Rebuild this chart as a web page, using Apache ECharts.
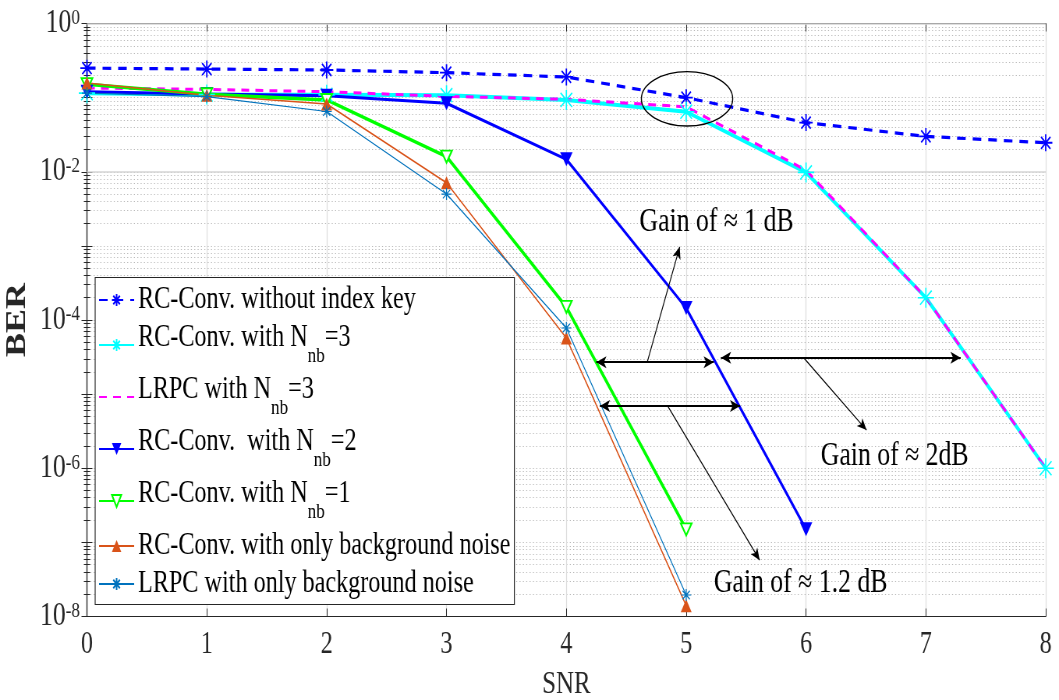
<!DOCTYPE html>
<html>
<head>
<meta charset="utf-8">
<script src="https://cdn.jsdelivr.net/npm/echarts@6/dist/echarts.min.js"></script>
<style>
  html, body { margin: 0; padding: 0; background: #fff; overflow: hidden; width: 1059px; height: 700px; }
  /* the figure is laid out wide and squeezed horizontally, giving the tall condensed lettering */
  #chart { width: 1358px; height: 700px; transform: scaleX(0.7798); transform-origin: 0 0; }
</style>
</head>
<body>
<div id="chart"></div>
<script>
// ---- data -------------------------------------------------------------
const snr = [0, 1, 2, 3, 4, 5, 6, 7, 8];

const berConvNoKey   = [0.25, 0.243, 0.236, 0.217, 0.19, 0.1, 0.046, 0.030, 0.0246];
const berConvNb3     = [0.115, 0.11, 0.109, 0.108, 0.093, 0.0645, 0.0098, 2.0e-4, 1.0e-6];
const berLrpcNb3     = [0.135, 0.129, 0.12, 0.104, 0.095, 0.075, 0.0105, 2.0e-4, 1.0e-6];
const berConvNb2     = [0.12, 0.112, 0.106, 0.084, 0.0147, 1.45e-4, 1.5e-7];
const berConvNb1     = [0.152, 0.111, 0.093, 0.016, 1.5e-4, 1.5e-7];
const berConvBgNoise = [0.157, 0.108, 0.082, 0.0071, 5.7e-5, 1.4e-8];
const berLrpcBgNoise = [0.115, 0.103, 0.065, 0.005, 7.8e-5, 1.95e-8];

const seriesNames = [
  'RC-Conv. without index key',
  'RC-Conv. with Nnb=3',
  'LRPC with Nnb=3',
  'RC-Conv.  with Nnb=2',
  'RC-Conv. with Nnb=1',
  'RC-Conv. with only background noise',
  'LRPC with only background noise'
];
const legendLabels = [
  '{m|RC-Conv. without index key}',
  '{ms|RC-Conv. with N}{sub|nb}{ms|=3}',
  '{ms|LRPC with N}{sub|nb}{ms|=3}',
  '{ms|RC-Conv.  with N}{sub|nb}{ms|=2}',
  '{ms|RC-Conv. with N}{sub|nb}{ms|=1}',
  '{m|RC-Conv. with only background noise}',
  '{m|LRPC with only background noise}'
];

// decades carrying labels and the solid major grid
const majorDecades = [1, 1e-2, 1e-4, 1e-6, 1e-8];

// annotation anchors, in (SNR, BER) units
const gainArrows = [
  [[4.25, 2.7e-5], [5.23, 2.7e-5]],
  [[5.29, 3.1e-5], [7.29, 3.1e-5]],
  [[4.28, 6.9e-6], [5.45, 6.9e-6]]
];
const gainPointers = [
  [[4.675, 2.7e-5], [4.946, 9.7e-4]],
  [[5.98, 3.1e-5], [6.505, 3.27e-6]],
  [[4.846, 6.9e-6], [5.613, 5.75e-8]]
];
const gainLabels = ['Gain of \u2248 1 dB', 'Gain of \u2248 2dB', 'Gain of \u2248 1.2 dB'];
const gainLabelAnchors = [[5.254, 2.09e-3], [6.74, 1.46e-6], [5.955, 2.8e-8]];
const ellipseCorners = [[4.626, 0.224], [5.388, 0.0414]];

// ---- styling ----------------------------------------------------------
const FONT = '"Liberation Serif", "Times New Roman", serif';
const AXIS_COLOR = '#262626';
const DOTTED = { color: '#b8b8b8', width: 1, type: [1.3, 3] };
const ASTERISK = 'path://M0,-10L0,10M-10,0L10,0M-7.07,-7.07L7.07,7.07M-7.07,7.07L7.07,-7.07';

const pairs = ys => ys.map((v, i) => [snr[i], v]);

function lineSeries(idx, values, style) {
  return Object.assign({
    name: seriesNames[idx],
    type: 'line',
    data: pairs(values),
    showSymbol: true,
    silent: true,
    emphasis: { disabled: true },
    animation: false
  }, style);
}

const series = [
  lineSeries(0, berConvNoKey, {
    lineStyle: { color: '#0000ff', width: 3.2, type: [11, 9] },
    symbol: ASTERISK, symbolSize: [17, 17],
    itemStyle: { color: '#0000ff', borderColor: '#0000ff', borderWidth: 1.8 }
  }),
  lineSeries(1, berConvNb3, {
    lineStyle: { color: '#00ffff', width: 4 },
    symbol: ASTERISK, symbolSize: [21, 20],
    itemStyle: { color: '#00ffff', borderColor: '#00ffff', borderWidth: 1.6 }
  }),
  lineSeries(2, berLrpcNb3, {
    lineStyle: { color: '#ff00ff', width: 3, type: [10, 8] },
    symbol: 'none',
    itemStyle: { color: 'rgba(0,0,0,0)', borderWidth: 0 }
  }),
  lineSeries(3, berConvNb2, {
    lineStyle: { color: '#0000ff', width: 3 },
    symbol: 'triangle', symbolRotate: 180, symbolSize: [16, 14],
    itemStyle: { color: '#0000ff' }
  }),
  lineSeries(4, berConvNb1, {
    lineStyle: { color: '#00ff00', width: 3.5 },
    symbol: 'emptyTriangle', symbolRotate: 180, symbolSize: [14, 12],
    itemStyle: { color: '#00ff00', borderColor: '#00ff00', borderWidth: 1.6 }
  }),
  lineSeries(5, berConvBgNoise, {
    lineStyle: { color: '#d95319', width: 1.5 },
    symbol: 'triangle', symbolSize: [14, 13],
    itemStyle: { color: '#d95319' }
  }),
  lineSeries(6, berLrpcBgNoise, {
    lineStyle: { color: '#0072bd', width: 1.2 },
    symbol: ASTERISK, symbolSize: [13, 12],
    itemStyle: { color: '#0072bd', borderColor: '#0072bd', borderWidth: 1.2 }
  }),
  // solid major grid at the labelled decades
  {
    name: 'major grid', type: 'line', data: [], silent: true, animation: false,
    markLine: {
      silent: true, z: 1, symbol: 'none', animation: false,
      label: { show: false },
      lineStyle: { color: '#d4d4d4', width: 1.5, type: 'solid' },
      data: majorDecades.map(v => ({ yAxis: v }))
    }
  },
  // double-headed gain arrows
  {
    name: 'gain arrows', type: 'line', data: [], silent: true, animation: false,
    markLine: {
      silent: true, symbol: ['arrow', 'arrow'], symbolSize: [9, 13], animation: false,
      label: { show: false },
      lineStyle: { color: '#000', width: 2, type: 'solid' },
      data: gainArrows.map(([a, b]) => [{ coord: a }, { coord: b }])
    }
  },
  // pointers from the arrows to their captions
  {
    name: 'gain pointers', type: 'line', data: [], silent: true, animation: false,
    markLine: {
      silent: true, symbol: ['none', 'arrow'], symbolSize: [8, 12], animation: false,
      label: { show: false },
      lineStyle: { color: '#000', width: 1.2, type: 'solid' },
      data: gainPointers.map(([a, b]) => [{ coord: a }, { coord: b }])
    }
  }
];

const tickLabelRich = {
  b: { fontSize: 33, fontFamily: FONT, color: AXIS_COLOR, lineHeight: 33, verticalAlign: 'bottom', padding: [3, 0, 0, 0] },
  s: { fontSize: 22, fontFamily: FONT, color: AXIS_COLOR, lineHeight: 22, verticalAlign: 'top' }
};

const option = {
  animation: false,
  backgroundColor: '#fff',
  grid: { left: 111.5, right: 17, top: 23.5, bottom: 83.5, containLabel: false, outerBoundsMode: 'none' },
  xAxis: [
    {
      type: 'value', position: 'bottom', min: 0, max: 8, interval: 1,
      name: 'SNR', nameLocation: 'middle', nameGap: 52,
      nameTextStyle: { fontSize: 32, fontFamily: FONT, color: AXIS_COLOR },
      axisLine: { show: true, lineStyle: { color: AXIS_COLOR, width: 1.2 } },
      axisTick: { show: true, inside: true, length: 8, lineStyle: { color: AXIS_COLOR } },
      axisLabel: { fontSize: 31, fontFamily: FONT, color: AXIS_COLOR, margin: 13 },
      splitLine: { show: true, lineStyle: { color: '#dcdcdc', width: 1.2 } }
    },
    {
      type: 'value', position: 'top', min: 0, max: 8, interval: 1,
      axisLine: { show: true, lineStyle: { color: AXIS_COLOR, width: 1.2 } },
      axisTick: { show: true, inside: true, length: 8, lineStyle: { color: AXIS_COLOR } },
      axisLabel: { show: false },
      splitLine: { show: false }
    }
  ],
  yAxis: [
    {
      type: 'log', logBase: 10, position: 'left', min: 1e-8, max: 1, splitNumber: 8,
      name: 'BER', nameLocation: 'middle', nameGap: 65,
      nameTextStyle: { fontSize: 36, fontWeight: 'bold', fontFamily: FONT, color: AXIS_COLOR },
      axisLine: { show: true, lineStyle: { color: AXIS_COLOR, width: 1.2 } },
      axisTick: { show: true, inside: true, length: 7, lineStyle: { color: AXIS_COLOR } },
      minorTick: { show: true, splitNumber: 9, length: 4, lineStyle: { color: AXIS_COLOR } },
      axisLabel: {
        fontSize: 33, fontFamily: FONT, color: AXIS_COLOR, margin: 9,
        formatter: v => {
          const e = Math.round(Math.log10(v));
          return e % 2 === 0 ? '{b|10}{s|' + e + '}' : '';
        },
        rich: tickLabelRich
      },
      splitLine: { show: true, lineStyle: DOTTED },
      minorSplitLine: { show: true, lineStyle: DOTTED }
    },
    {
      type: 'log', logBase: 10, position: 'right', min: 1e-8, max: 1, splitNumber: 8,
      axisLine: { show: true, lineStyle: { color: AXIS_COLOR, width: 1.2 } },
      axisTick: { show: true, inside: true, length: 7, lineStyle: { color: AXIS_COLOR } },
      minorTick: { show: true, splitNumber: 9, length: 4, lineStyle: { color: AXIS_COLOR } },
      axisLabel: { show: false },
      splitLine: { show: false },
      minorSplitLine: { show: false }
    }
  ],
  legend: {
    data: seriesNames,
    orient: 'vertical',
    left: 122, top: 277.5,
    padding: [7, 5, 5, 4],
    itemGap: 7,
    itemWidth: 45, itemHeight: 15,
    selectedMode: false,
    backgroundColor: '#fff',
    borderColor: AXIS_COLOR, borderWidth: 1.2,
    formatter: name => legendLabels[seriesNames.indexOf(name)],
    textStyle: {
      fontSize: 31, fontFamily: FONT, color: '#000',
      rich: {
        m: { fontSize: 31, fontFamily: FONT, color: '#000', lineHeight: 31, verticalAlign: 'top' },
        ms: { fontSize: 31, fontFamily: FONT, color: '#000', lineHeight: 45, verticalAlign: 'top' },
        sub: { fontSize: 22, fontFamily: FONT, color: '#000', lineHeight: 22, verticalAlign: 'bottom' }
      }
    }
  },
  series: series
};

const chart = echarts.init(document.getElementById('chart'), null, { renderer: 'canvas' });
chart.setOption(option);

// captions and the highlighted region are placed through the axes' scales
const toPx = p => chart.convertToPixel({ seriesIndex: 0 }, p);
const graphics = gainLabels.map((text, i) => {
  const p = toPx(gainLabelAnchors[i]);
  return {
    type: 'text', x: p[0], y: p[1], z: 10, silent: true,
    style: { text: text, fontSize: 33, fontFamily: FONT, fill: '#000', align: 'center', verticalAlign: 'middle' }
  };
});
const c0 = toPx(ellipseCorners[0]);
const c1 = toPx(ellipseCorners[1]);
graphics.push({
  type: 'ellipse', z: 10, silent: true,
  shape: {
    cx: (c0[0] + c1[0]) / 2, cy: (c0[1] + c1[1]) / 2,
    rx: Math.abs(c1[0] - c0[0]) / 2, ry: Math.abs(c1[1] - c0[1]) / 2
  },
  style: { fill: 'none', stroke: '#000', lineWidth: 1.4 }
});
chart.setOption({ graphic: graphics });
</script>
</body>
</html>
